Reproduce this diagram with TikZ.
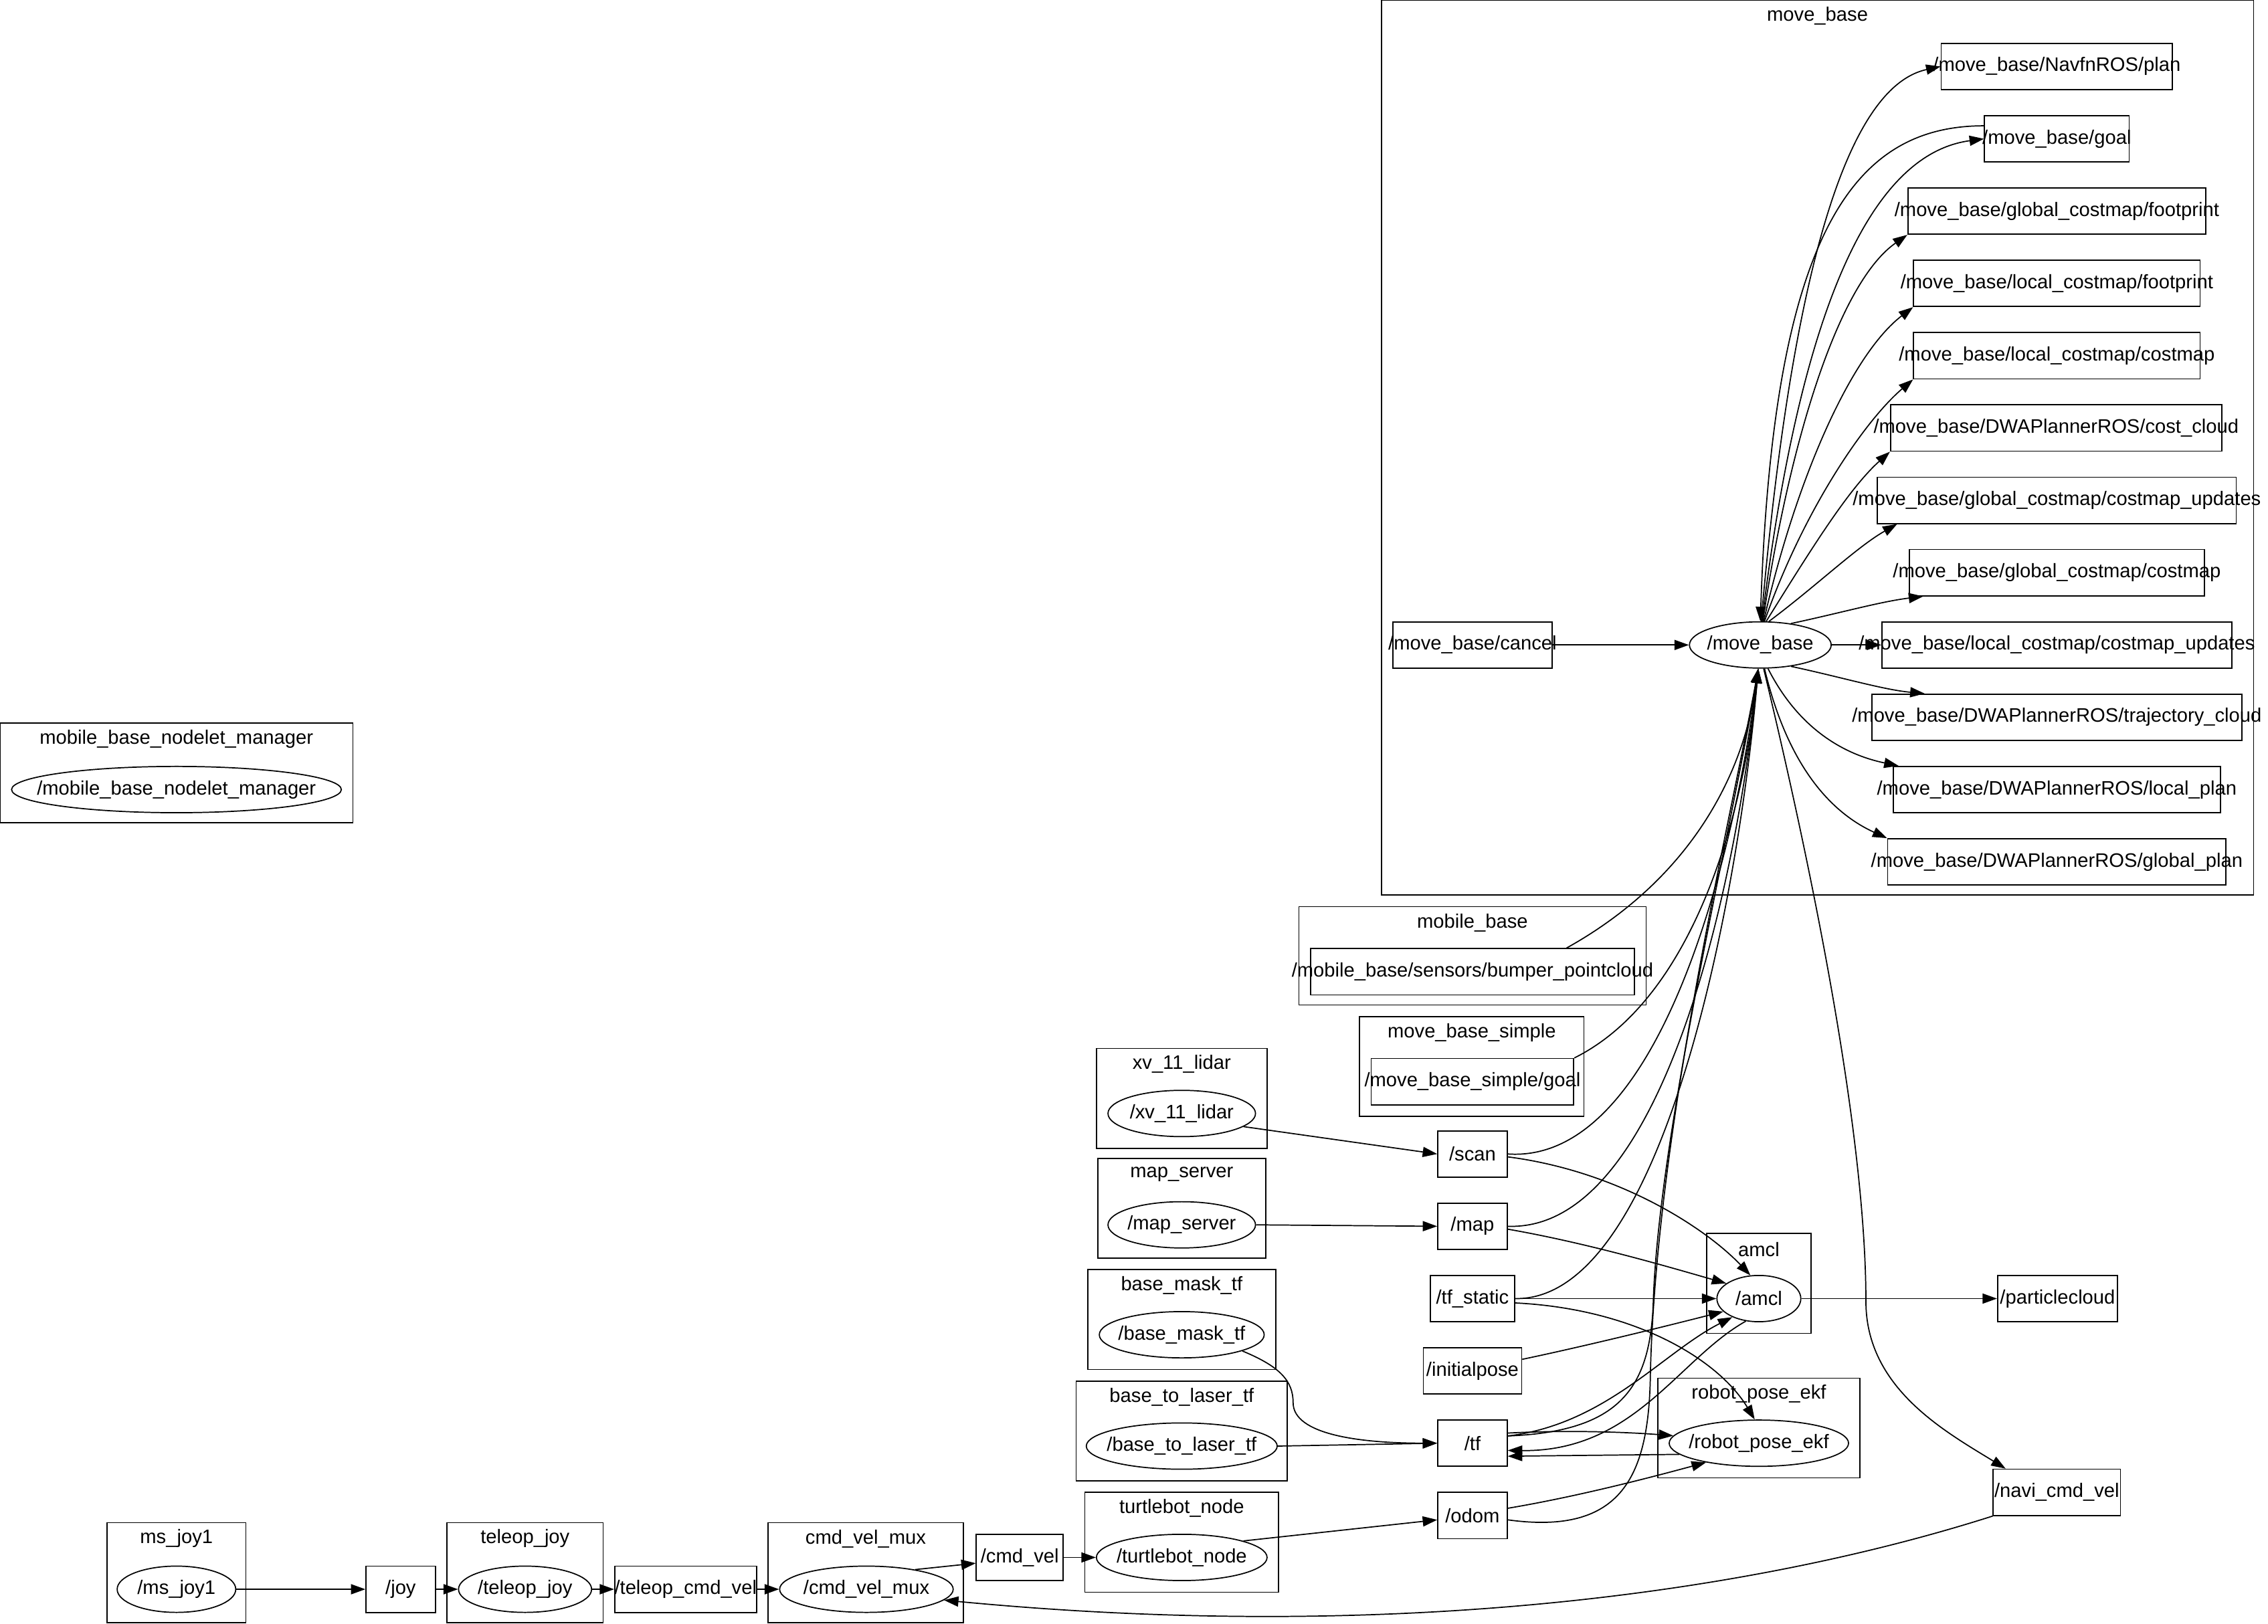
\documentclass[tikz,border=0pt]{standalone}
\usepackage{fontspec}
\setmainfont{Liberation Sans}
\usetikzlibrary{
    arrows.meta,
    shapes.geometric
}
\tikzset{
  cluster/.style = {draw, line width=0.8pt},
  ctitle/.style  = {inner sep=0pt},
  topic/.style   = {draw, rectangle, line width=0.8pt, inner sep=0pt,
                    minimum height=32},
  rosnode/.style = {draw, ellipse, line width=0.8pt, inner sep=0pt,
                    minimum height=32},
  arr/.style     = {-{Triangle[length=10pt,width=7pt]}, line width=0.8pt}
}
% label that may stick out of its box, as rqt_graph draws it
\newcommand{\ovr}[1]{\makebox[0pt][c]{#1}}

\begin{document}
\begin{tikzpicture}[x=1pt, y=-1pt, font=\fontsize{13.5}{16}\selectfont]
    \useasboundingbox (0,0) rectangle (1568,1123);

    % clusters
    \draw[cluster] (955,0) rectangle (1558,619);
    \node[ctitle] (t_movebase) at (1256.5,11) {move\_base};
    \draw[cluster] (0,500) rectangle (244,569);
    \node[ctitle] (t_nodelet) at (122,511) {mobile\_base\_nodelet\_manager};
    \draw[cluster] (74,1053) rectangle (170,1122);
    \node[ctitle] (t_msjoy) at (122,1064) {ms\_joy1};
    \draw[cluster] (309,1053) rectangle (417,1122);
    \node[ctitle] (t_teleopjoy) at (363,1064) {teleop\_joy};
    \draw[cluster] (531,1053) rectangle (666,1122);
    \node[ctitle] (t_mux) at (598.5,1064) {cmd\_vel\_mux};
    \draw[cluster] (750,1032) rectangle (884,1101);
    \node[ctitle] (t_turtle) at (817,1043) {turtlebot\_node};
    \draw[cluster] (744,955) rectangle (890,1024);
    \node[ctitle] (t_b2l) at (817,966) {base\_to\_laser\_tf};
    \draw[cluster] (752,878) rectangle (882,947);
    \node[ctitle] (t_bmask) at (817,889) {base\_mask\_tf};
    \draw[cluster] (759,801) rectangle (875,870);
    \node[ctitle] (t_mapsrv) at (817,812) {map\_server};
    \draw[cluster] (758,725) rectangle (876,794);
    \node[ctitle] (t_lidar) at (817,736) {xv\_11\_lidar};
    \draw[cluster] (898,627) rectangle (1138,695);
    \node[ctitle] (t_mobile) at (1018,638) {mobile\_base};
    \draw[cluster] (940,703) rectangle (1095,772);
    \node[ctitle] (t_simple) at (1017.5,714) {move\_base\_simple};
    \draw[cluster] (1180,853) rectangle (1252,922);
    \node[ctitle] (t_amcl) at (1216,864) {amcl};
    \draw[cluster] (1146,953) rectangle (1286,1022);
    \node[ctitle] (t_ekf) at (1216,964) {robot\_pose\_ekf};

    % ros nodes
    \node[rosnode, minimum width=98] (mbnode) at (1217,446) {\ovr{/move\_base}};
    \node[rosnode, minimum width=228] (nodeletmgr) at (122,546) {\ovr{/mobile\_base\_nodelet\_manager}};
    \node[rosnode, minimum width=82] (msjoy) at (122,1099) {\ovr{/ms\_joy1}};
    \node[rosnode, minimum width=92] (teleopjoy) at (363,1099) {\ovr{/teleop\_joy}};
    \node[rosnode, minimum width=120] (mux) at (599,1099) {\ovr{/cmd\_vel\_mux}};
    \node[rosnode, minimum width=118] (turtle) at (817,1077) {\ovr{/turtlebot\_node}};
    \node[rosnode, minimum width=132] (b2l) at (817,1000) {\ovr{/base\_to\_laser\_tf}};
    \node[rosnode, minimum width=114] (bmask) at (817,923) {\ovr{/base\_mask\_tf}};
    \node[rosnode, minimum width=102] (mapsrv) at (817,847) {\ovr{/map\_server}};
    \node[rosnode, minimum width=102] (lidar) at (817,770) {\ovr{/xv\_11\_lidar}};
    \node[rosnode, minimum width=58] (amcl) at (1216,898) {\ovr{/amcl}};
    \node[rosnode, minimum width=124] (ekf) at (1216,998) {\ovr{/robot\_pose\_ekf}};

    % topics
    \node[topic, minimum width=160] (navfn) at (1422,46) {\ovr{/move\_base/NavfnROS/plan}};
    \node[topic, minimum width=100] (mbgoal) at (1422,96) {\ovr{/move\_base/goal}};
    \node[topic, minimum width=206] (gfoot) at (1422,146) {\ovr{/move\_base/global\_costmap/footprint}};
    \node[topic, minimum width=198] (lfoot) at (1422,196) {\ovr{/move\_base/local\_costmap/footprint}};
    \node[topic, minimum width=198] (lcost) at (1422,246) {\ovr{/move\_base/local\_costmap/costmap}};
    \node[topic, minimum width=229] (costcloud) at (1421.5,296) {\ovr{/move\_base/DWAPlannerROS/cost\_cloud}};
    \node[topic, minimum width=248] (gcupd) at (1422,346) {\ovr{/move\_base/global\_costmap/costmap\_updates}};
    \node[topic, minimum width=204] (gcost) at (1422,396) {\ovr{/move\_base/global\_costmap/costmap}};
    \node[topic, minimum width=242] (lcupd) at (1422,446) {\ovr{/move\_base/local\_costmap/costmap\_updates}};
    \node[topic, minimum width=256] (trajcloud) at (1422,496) {\ovr{/move\_base/DWAPlannerROS/trajectory\_cloud}};
    \node[topic, minimum width=226] (lplan) at (1422,546) {\ovr{/move\_base/DWAPlannerROS/local\_plan}};
    \node[topic, minimum width=234] (gplan) at (1422,596) {\ovr{/move\_base/DWAPlannerROS/global\_plan}};
    \node[topic, minimum width=110] (cancel) at (1018,446) {\ovr{/move\_base/cancel}};
    \node[topic, minimum width=224] (bumper) at (1018,672) {\ovr{/mobile\_base/sensors/bumper\_pointcloud}};
    \node[topic, minimum width=140] (simplegoal) at (1018,748) {\ovr{/move\_base\_simple/goal}};
    \node[topic, minimum width=48] (scan) at (1018,798) {\ovr{/scan}};
    \node[topic, minimum width=48] (map) at (1018,848) {\ovr{/map}};
    \node[topic, minimum width=58] (tfstatic) at (1018,898) {\ovr{/tf\_static}};
    \node[topic, minimum width=68] (initpose) at (1018,948) {\ovr{/initialpose}};
    \node[topic, minimum width=48] (tf) at (1018,998) {\ovr{/tf}};
    \node[topic, minimum width=48] (odom) at (1018,1048) {\ovr{/odom}};
    \node[topic, minimum width=83] (particle) at (1422.5,898) {\ovr{/particlecloud}};
    \node[topic, minimum width=88] (navi) at (1422,1032) {\ovr{/navi\_cmd\_vel}};
    \node[topic, minimum width=48] (joy) at (277,1099) {\ovr{/joy}};
    \node[topic, minimum width=98] (teleopcmd) at (474,1099) {\ovr{/teleop\_cmd\_vel}};
    \node[topic, minimum width=60] (cmdvel) at (705,1077) {\ovr{/cmd\_vel}};

    % move_base publishes
    \draw[arr] (mbnode.88) .. controls (1235,230) and (1268,62) .. (navfn.west);
    \draw[arr] (mbnode.86) .. controls (1240,250) and (1282,108) .. (mbgoal.west);
    \draw[arr] ([yshift=9]mbgoal.west) .. controls (1282,87) and (1226,160) .. (mbnode.90);
    \draw[arr] (mbnode.84) .. controls (1238,300) and (1272,195) .. (gfoot.south west);
    \draw[arr] (mbnode.82) .. controls (1242,330) and (1280,245) .. (lfoot.south west);
    \draw[arr] (mbnode.80) .. controls (1246,355) and (1288,292) .. (lcost.south west);
    \draw[arr] (mbnode.76) .. controls (1252,380) and (1278,338) .. (costcloud.south west);
    \draw[arr] (mbnode.70) .. controls (1256,405) and (1284,378) .. ([xshift=14]gcupd.south west);
    \draw[arr] (mbnode.35) .. controls (1272,424) and (1300,416) .. ([xshift=10]gcost.south west);
    \draw[arr] (mbnode.east) -- (lcupd.west);
    \draw[arr] (mbnode.-35) .. controls (1272,468) and (1302,477) .. ([xshift=37]trajcloud.north west);
    \draw[arr] (mbnode.-72) .. controls (1244,505) and (1276,522) .. ([xshift=4]lplan.north west);
    \draw[arr] (mbnode.-80) .. controls (1236,530) and (1266,562) .. (gplan.north west);
    \draw[arr] (mbnode.-82) .. controls (1262,640) and (1290,800) .. (1290,900)
                            .. controls (1290,960) and (1345,990) .. ([xshift=9]navi.north west);

    % move_base subscribes
    \draw[arr] (cancel.east) -- (mbnode.west);
    \draw[arr] ([xshift=65]bumper.north) .. controls (1165,610) and (1205,540) .. (mbnode.-95);
    \draw[arr] (simplegoal.north east) .. controls (1172,690) and (1206,560) .. (mbnode.-95);
    \draw[arr] (scan.east) .. controls (1145,805) and (1198,600) .. (mbnode.-95);
    \draw[arr] (map.east) .. controls (1152,852) and (1202,600) .. (mbnode.-95);
    \draw[arr] (tfstatic.east) .. controls (1150,900) and (1202,620) .. (mbnode.-95);
    \draw[arr] ([yshift=5]tf.east) .. controls (1120,990) and (1141,960) .. (1143,900)
                                   .. controls (1147,780) and (1200,560) .. (mbnode.-95);
    \draw[arr] ([yshift=-3]odom.east) .. controls (1122,1062) and (1140,1020) .. (1141,950)
                                      .. controls (1145,780) and (1198,560) .. (mbnode.-95);

    % localisation
    \draw[arr] (lidar.-12) -- (scan.west);
    \draw[arr] (mapsrv.east) -- (map.west);
    \draw[arr] ([yshift=-2]scan.east) .. controls (1120,810) and (1180,850) .. (amcl.110);
    \draw[arr] ([yshift=-2]map.east) .. controls (1100,860) and (1160,878) .. (amcl.155);
    \draw[arr] (tfstatic.east) -- (amcl.west);
    \draw[arr] ([yshift=8]initpose.east) .. controls (1100,930) and (1160,915) .. (amcl.200);
    \draw[arr] ([yshift=5]tf.east) .. controls (1110,985) and (1150,935) .. (amcl.215);
    \draw[arr] (amcl.240) .. controls (1160,940) and (1130,1004) .. ([yshift=-5]tf.east);
    \draw[arr] (amcl.east) -- (particle.west);
    \draw[arr] ([yshift=-3]tfstatic.east) .. controls (1130,905) and (1188,940) .. (ekf.100);
    \draw[arr] ([yshift=7]tf.east) .. controls (1080,989) and (1120,990) .. (ekf.175);
    \draw[arr] (ekf.188) -- ([yshift=-9]tf.east);
    \draw[arr] ([yshift=5]odom.east) .. controls (1090,1035) and (1140,1022) .. (ekf.200);
    \draw[arr] (bmask.-15) .. controls (885,945) and (894,955) .. (894,970)
                           .. controls (894,992) and (940,998) .. (tf.west);
    \draw[arr] (b2l.east) -- (tf.west);

    % velocity chain
    \draw[arr] (msjoy.east) -- (joy.west);
    \draw[arr] (joy.east) -- (teleopjoy.west);
    \draw[arr] (teleopjoy.east) -- (teleopcmd.west);
    \draw[arr] (teleopcmd.east) -- (mux.west);
    \draw[arr] (mux.22) -- ([yshift=-4]cmdvel.west);
    \draw[arr] (cmdvel.east) -- (turtle.west);
    \draw[arr] (turtle.15) -- ([yshift=-3]odom.west);
    \draw[arr] (navi.south west) .. controls (1200,1105) and (950,1135) .. (mux.-8);
\end{tikzpicture}
\end{document}
